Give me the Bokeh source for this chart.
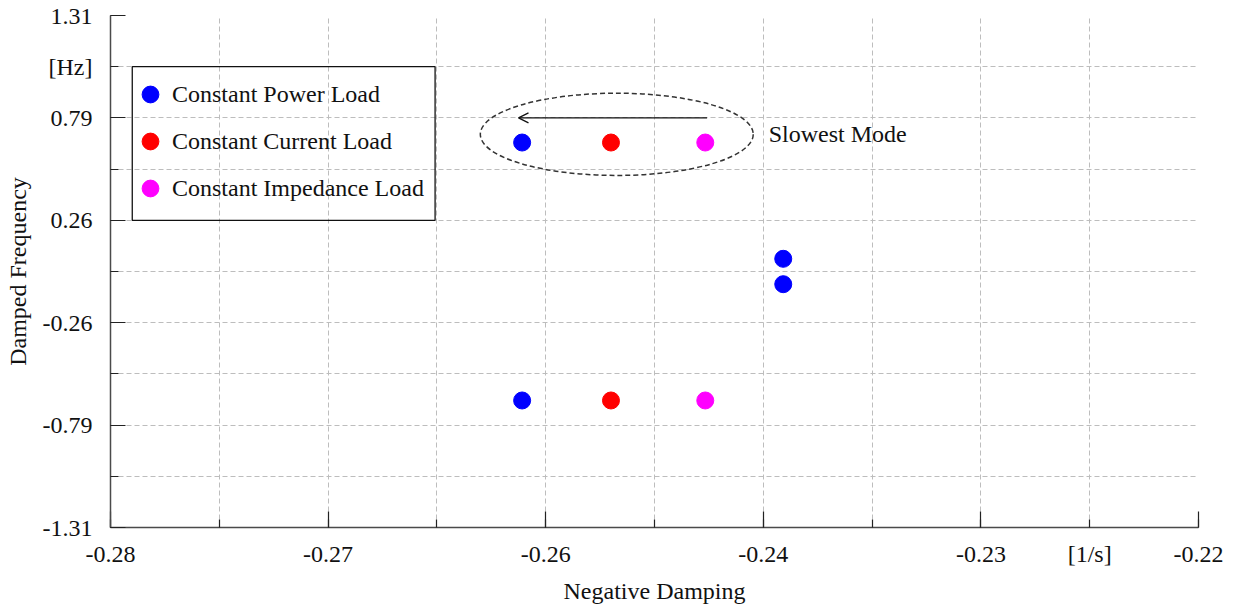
from bokeh.plotting import figure
from bokeh.models import (Range1d, FixedTicker, Label, Arrow, OpenHead, BoxAnnotation)
from bokeh.embed import file_html
from bokeh.resources import INLINE

# ---- data ----
power_x = [-0.2573, -0.2573, -0.2429, -0.2429]
power_y = [0.66, -0.66, 0.065, -0.065]
current_x = [-0.2524, -0.2524]
current_y = [0.66, -0.66]
impedance_x = [-0.2472, -0.2472]
impedance_y = [0.66, -0.66]

series_names = ["Constant Power Load", "Constant Current Load", "Constant Impedance Load"]
series_colors = ["#0000ff", "#ff0000", "#ff00ff"]

x_ticks = [-0.28, -0.274, -0.268, -0.262, -0.256, -0.25, -0.244, -0.238, -0.232, -0.226, -0.22]
x_tick_labels = ["-0.28", "", "-0.27", "", "-0.26", "", "-0.24", "", "-0.23", "[1/s]", "-0.22"]
x_long_ticks = [-0.28, -0.268, -0.256, -0.244, -0.232, -0.22]
y_ticks = [-1.31, -1.048, -0.786, -0.524, -0.262, 0.0, 0.262, 0.524, 0.786, 1.048, 1.31]
y_tick_labels = ["-1.31", "", "-0.79", "", "-0.26", "", "0.26", "", "0.79", "[Hz]", "1.31"]
y_long_ticks = [-1.31, -0.786, -0.262, 0.262, 0.786, 1.31]

x_title = "Negative Damping"
y_title = "Damped Frequency"

# slowest-mode annotation (ellipse + arrow)
mode_center = (-0.25208, 0.702)
mode_size = (0.01505, 0.421)
arrow_from = (-0.2471, 0.786)
arrow_to = (-0.2575, 0.786)
mode_text = "Slowest Mode"
mode_text_pos = (-0.2437, 0.702)

legend_box_x = (-0.2788, -0.2621)
legend_box_y = (0.262, 1.048)

FONT = "Liberation Serif"
TXT = "#111111"
FS = "24px"

p = figure(width=1236, height=608, output_backend="svg", toolbar_location=None,
           x_range=Range1d(-0.28, -0.22), y_range=Range1d(-1.31, 1.31),
           min_border_left=110, min_border_right=38, min_border_top=15, min_border_bottom=81)
p.outline_line_color = None
p.background_fill_color = "white"

# grid
p.xgrid.ticker = FixedTicker(ticks=x_ticks)
p.ygrid.ticker = FixedTicker(ticks=y_ticks)
for g in (p.xgrid, p.ygrid):
    g.grid_line_color = "#bdbdbd"
    g.grid_line_dash = "5 3"
    g.grid_line_width = 1

# axes: short "major" ticks everywhere, long "minor" ticks at the numbered positions
p.xaxis.ticker = FixedTicker(ticks=x_ticks, minor_ticks=x_long_ticks)
p.yaxis.ticker = FixedTicker(ticks=y_ticks, minor_ticks=y_long_ticks)
p.xaxis.major_label_overrides = {t: l for t, l in zip(x_ticks, x_tick_labels)}
p.yaxis.major_label_overrides = {t: l for t, l in zip(y_ticks, y_tick_labels)}
p.xaxis.axis_label = x_title
p.yaxis.axis_label = y_title
for ax in (p.xaxis, p.yaxis):
    ax.axis_line_color = "#4a4a4a"
    ax.axis_line_width = 1.5
    ax.major_tick_line_color = "#222222"
    ax.minor_tick_line_color = "#222222"
    ax.major_tick_line_width = 1.2
    ax.minor_tick_line_width = 1.2
    ax.major_tick_out = 0
    ax.minor_tick_out = 0
    ax.major_tick_in = 8
    ax.minor_tick_in = 16
    ax.major_label_text_font = FONT
    ax.major_label_text_font_size = FS
    ax.major_label_text_color = TXT
    ax.axis_label_text_font = FONT
    ax.axis_label_text_font_size = FS
    ax.axis_label_text_font_style = "normal"
    ax.axis_label_text_color = TXT
p.yaxis.minor_tick_in = 15
p.yaxis.major_label_standoff = 18
p.yaxis.axis_label_standoff = 9
p.xaxis.major_label_standoff = 13
p.xaxis.axis_label_standoff = 8

# data
for xs, ys, name, col in zip([power_x, current_x, impedance_x],
                             [power_y, current_y, impedance_y],
                             series_names, series_colors):
    p.scatter(xs, ys, marker="circle", size=17, fill_color=col, line_color=col,
              legend_label=name)

# ellipse + arrow
p.ellipse(x=[mode_center[0]], y=[mode_center[1]], width=[mode_size[0]], height=[mode_size[1]],
          fill_color=None, line_color="#333333", line_dash="5 3", line_width=1.5)
p.add_layout(Arrow(end=OpenHead(size=10, line_color="#111111", line_width=1.3),
                   x_start=arrow_from[0], y_start=arrow_from[1],
                   x_end=arrow_to[0], y_end=arrow_to[1],
                   line_color="#111111", line_width=1.3))
p.add_layout(Label(x=mode_text_pos[0], y=mode_text_pos[1], text=mode_text,
                   text_font=FONT, text_font_size=FS, text_color=TXT,
                   text_align="left", text_baseline="middle"))

# legend
p.add_layout(BoxAnnotation(left=legend_box_x[0], right=legend_box_x[1],
                           bottom=legend_box_y[0], top=legend_box_y[1],
                           fill_alpha=0, line_color="#111111", line_alpha=1.0, line_width=1.3))
lg = p.legend[0]
lg.location = (19, 318)
lg.margin = 0
lg.padding = 0
lg.spacing = 5
lg.glyph_width = 42
lg.glyph_height = 42
lg.label_standoff = 1
lg.border_line_color = None
lg.background_fill_alpha = 0
lg.label_text_font = FONT
lg.label_text_font_size = FS
lg.label_text_color = TXT

open("out.html", "w").write(file_html(p, INLINE))
